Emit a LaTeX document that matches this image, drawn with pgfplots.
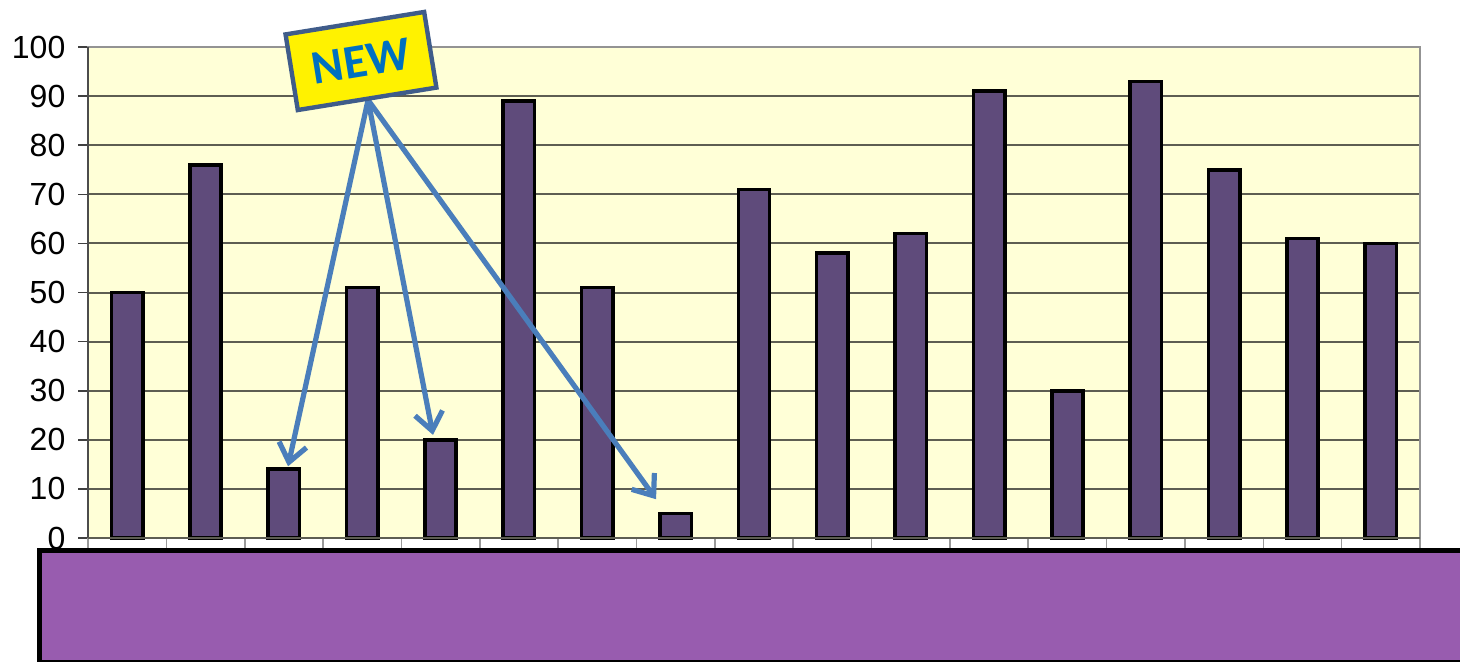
\documentclass[border=0pt]{standalone}
\usepackage{pgfplots}
\pgfplotsset{compat=1.18}
\usepackage{fontspec}
\setmainfont{Liberation Sans}
\newfontfamily\signfont{Carlito}
\usetikzlibrary{arrows.meta}

\definecolor{barfill}{HTML}{5F4B7B}
\definecolor{plotbg}{HTML}{FFFFD7}
\definecolor{gridcol}{HTML}{5E5E52}
\definecolor{arrowblue}{HTML}{4A7EBB}
\definecolor{signedge}{HTML}{3F5C8A}
\definecolor{signtext}{HTML}{0070C0}
\definecolor{bandfill}{HTML}{985CAF}

\pgfplotstableread{
x  y
1  50
2  76
3  14
4  51
5  20
6  89
7  51
8  5
9  71
10 58
11 62
12 91
13 30
14 93
15 75
16 61
17 60
}\scores

\begin{document}
\begin{tikzpicture}
\useasboundingbox (0,0) rectangle (730pt,330.5pt);

% purple band below the chart
\draw[line width=2.5pt, fill=bandfill] (19.75pt,-0.5pt) rectangle (740pt,55.25pt);

\begin{axis}[
  at={(44pt,61.5pt)}, anchor=south west,
  scale only axis, width=666pt, height=245.5pt,
  xmin=0.5, xmax=17.5, ymin=0, ymax=100,
  clip=false,
  axis background/.style={fill=plotbg},
  axis line style={draw=gray!85, line width=1.1pt},
  ytick={0,10,...,100},
  xtick={0.5,1.5,...,17.5}, xticklabels={},
  xtick pos=bottom, ytick pos=left,
  tick align=outside, major tick length=4.8pt,
  y tick style={draw=black!75, line width=0.8pt},
  x tick style={draw=gray!80, line width=0.8pt},
  ymajorgrids, major grid style={draw=gridcol, line width=1pt},
  yticklabel style={font=\fontsize{16}{18}\selectfont, xshift=-3pt},
  /pgf/number format/assume math mode=true,
  ybar, bar width=0.4,
]
\addplot[fill=barfill, draw=black, line width=1.8pt] table[x=x,y=y] {\scores};

% left axis line and base line in dark grey
\draw[black!70, line width=1pt] (rel axis cs:0,0) -- (rel axis cs:0,1);
\draw[gridcol, line width=1pt] (rel axis cs:0,0) -- (rel axis cs:1,0);

% callout arrows from the sign
\begin{scope}[arrowblue, line width=2.6pt, line cap=round, line join=round,
  -{Straight Barb[length=9pt, width=14pt, line width=2.6pt]}]
  \draw (axis cs:4.074,89.2) -- (axis cs:3.053,14.6);
  \draw (axis cs:4.074,89.2) -- (axis cs:4.903,21.0);
  \draw (axis cs:4.074,89.2) -- (axis cs:7.75,7.9);
\end{scope}

% the sign
\node[rotate=9.2, draw=signedge, line width=2.2pt, fill=yellow,
  minimum width=70.2pt, minimum height=38.3pt, inner sep=0pt,
  text=signtext, font=\signfont\bfseries\fontsize{24}{28}\selectfont]
  at (axis cs:3.984,97.15) {NEW};
\end{axis}
\end{tikzpicture}
\end{document}
